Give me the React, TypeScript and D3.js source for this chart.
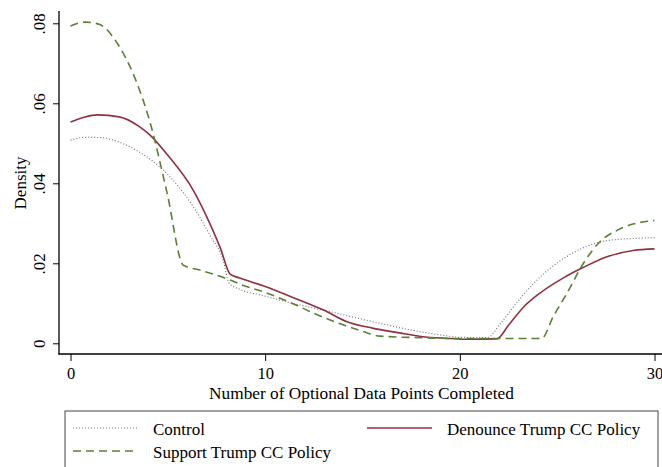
import { useEffect, useRef } from "react";
import * as d3 from "d3";

// values
const controlX = [0, 0.8, 1.6, 2.5, 3.3, 4.1, 5.1, 6.3, 7.2, 7.84, 8.15, 8.7, 10, 11.3, 12.5, 13.7, 15, 15.9, 17, 18, 19, 20, 21.4, 22.1, 22.9, 23.8, 24.65, 25.5, 26.5, 27.6, 28.9, 30];
const controlY = [0.0508, 0.0515, 0.0514, 0.0503, 0.0485, 0.046, 0.0417, 0.0342, 0.0267, 0.0208, 0.015, 0.0135, 0.0118, 0.0101, 0.0088, 0.0075, 0.006, 0.005, 0.0038, 0.0029, 0.0021, 0.0015, 0.0014, 0.005, 0.01, 0.015, 0.0188, 0.0217, 0.0242, 0.0257, 0.0262, 0.0264];

const denounceX = [0, 0.7, 1.4, 2.5, 3.5, 4.1, 5.0, 6.3, 7.2, 7.7, 8.2, 8.7, 10, 11.3, 13, 14.2, 15.5, 16.9, 18, 19.5, 20.4, 21.9, 22.5, 23.3, 24.1, 25.3, 26.35, 27.6, 28.9, 30];
const denounceY = [0.0553, 0.0565, 0.0571, 0.0566, 0.0543, 0.052, 0.047, 0.0383, 0.0295, 0.0238, 0.0173, 0.0163, 0.0142, 0.0117, 0.0083, 0.0054, 0.0038, 0.0026, 0.0017, 0.0012, 0.001, 0.0011, 0.0045, 0.0092, 0.0125, 0.0163, 0.019, 0.0217, 0.0232, 0.0236];

const supportX = [0, 0.75, 1.5, 2.4, 3.2, 4.1, 4.96, 5.8, 6.66, 8.2, 8.7, 10, 11.3, 12.5, 13.9, 15, 15.9, 18, 20, 22, 24.2, 24.8, 25.5, 26.4, 27.2, 28.1, 28.9, 29.8, 30];
const supportY = [0.0793, 0.0803, 0.0797, 0.075, 0.0676, 0.055, 0.0376, 0.0195, 0.0183, 0.0158, 0.0148, 0.0127, 0.0102, 0.0075, 0.0048, 0.003, 0.0018, 0.0014, 0.0012, 0.0012, 0.0012, 0.0067, 0.0125, 0.0204, 0.0254, 0.0283, 0.0298, 0.0306, 0.0307];

const xTicks = [0, 10, 20, 30];
const yTicks = [0, 0.02, 0.04, 0.06, 0.08];

const series = [
  { name: "Control", xs: controlX, ys: controlY, color: "#777777", dash: "1,2", width: 1.2 },
  { name: "Denounce Trump CC Policy", xs: denounceX, ys: denounceY, color: "#903040", dash: null, width: 1.6 },
  { name: "Support Trump CC Policy", xs: supportX, ys: supportY, color: "#5b8033", dash: "8,5", width: 1.6 },
];

const FONT = "'Liberation Serif', 'DejaVu Serif', serif";

export default function App() {
  const svgRef = useRef(null);

  useEffect(() => {
    const svg = d3.select(svgRef.current);
    svg.selectAll("*").remove();

    const x = d3.scaleLinear().domain([0, 30]).range([70.5, 654.5]);
    const y = d3.scaleLinear().domain([0, 0.08]).range([343.3, 23.3]);

    svg.append("rect").attr("width", 662).attr("height", 467).attr("fill", "#fff");

    // axis lines
    svg.append("line").attr("x1", 59).attr("x2", 59).attr("y1", 11).attr("y2", 354.5)
      .attr("stroke", "#000").attr("stroke-width", 1.3);
    svg.append("line").attr("x1", 58.5).attr("x2", 662).attr("y1", 354).attr("y2", 354)
      .attr("stroke", "#000").attr("stroke-width", 1.3);

    // x axis
    const gx = svg.append("g").attr("transform", "translate(0,354)")
      .call(d3.axisBottom(x).tickValues(xTicks).tickSize(7).tickPadding(6.5).tickFormat(d3.format("d")));
    gx.select(".domain").remove();
    gx.selectAll("line").attr("stroke", "#000").attr("stroke-width", 1);
    gx.selectAll("text").attr("font-family", FONT).attr("font-size", 16.5).attr("fill", "#000");

    // y axis
    const fmtY = (d) => (d === 0 ? "0" : d3.format(".2f")(d).replace(/^0/, ""));
    const gy = svg.append("g").attr("transform", "translate(59,0)")
      .call(d3.axisLeft(y).tickValues(yTicks).tickSize(6).tickFormat(fmtY));
    gy.select(".domain").remove();
    gy.selectAll("line").attr("stroke", "#000").attr("stroke-width", 1);
    gy.selectAll("text")
      .attr("font-family", FONT).attr("font-size", 17).attr("fill", "#000")
      .attr("x", null).attr("dy", null)
      .attr("text-anchor", "middle")
      .attr("transform", "translate(-14,0) rotate(-90)");

    // axis titles
    svg.append("text").attr("x", 361.5).attr("y", 398.5).attr("text-anchor", "middle")
      .attr("font-family", FONT).attr("font-size", 17.3).text("Number of Optional Data Points Completed");
    svg.append("text").attr("transform", "translate(26,183) rotate(-90)").attr("text-anchor", "middle")
      .attr("font-family", FONT).attr("font-size", 17).text("Density");

    // density curves
    const line = d3.line().x((d) => x(d[0])).y((d) => y(d[1])).curve(d3.curveMonotoneX);
    series.forEach((s) => {
      const pts = s.xs.map((v, i) => [v, s.ys[i]]);
      svg.append("path").attr("d", line(pts)).attr("fill", "none")
        .attr("stroke", s.color).attr("stroke-width", s.width)
        .attr("stroke-dasharray", s.dash);
    });

    // legend
    svg.append("rect").attr("x", 65).attr("y", 411).attr("width", 593).attr("height", 80)
      .attr("fill", "#fff").attr("stroke", "#444").attr("stroke-width", 1);
    const legendPos = [
      { x: 73, y: 428 },
      { x: 367, y: 428 },
      { x: 73, y: 451 },
    ];
    series.forEach((s, i) => {
      const p = legendPos[i];
      svg.append("line").attr("x1", p.x).attr("x2", p.x + 65).attr("y1", p.y).attr("y2", p.y)
        .attr("stroke", s.color).attr("stroke-width", s.width).attr("stroke-dasharray", s.dash);
      svg.append("text").attr("x", p.x + 80).attr("y", p.y + 7)
        .attr("font-family", FONT).attr("font-size", 17).text(s.name);
    });
  }, []);

  return (
    <div style={{ position: "fixed", left: 0, top: 0 }}>
      <svg ref={svgRef} width={662} height={467} style={{ display: "block", fontFamily: FONT }} />
    </div>
  );
}
